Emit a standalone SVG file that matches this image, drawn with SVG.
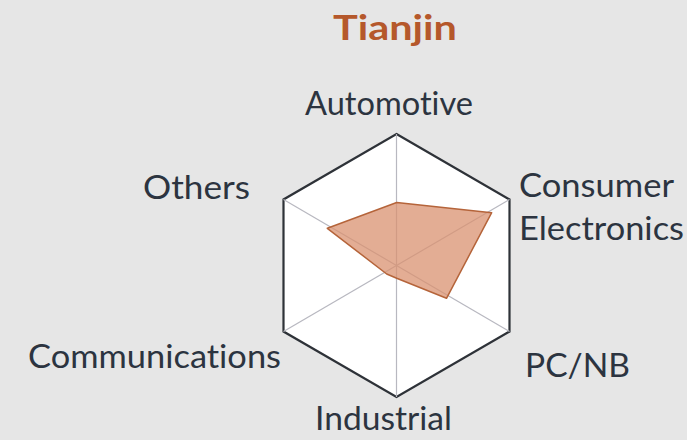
<svg xmlns="http://www.w3.org/2000/svg" width="687" height="440" viewBox="0 0 687 440">
<defs>
<style>
.lbl{font-family:Lato,"Open Sans","Liberation Sans",sans-serif;font-size:32px;fill:#2c3440;font-variant-ligatures:none;}
.ttl{font-family:Lato,"Open Sans","Liberation Sans",sans-serif;font-size:35px;font-weight:bold;fill:#b5582b;font-variant-ligatures:none;}
.axis{stroke:#b8b8c0;stroke-width:1.2;fill:none;}
</style>
</defs>
<rect x="0" y="0" width="687" height="440" fill="#e6e6e6"/>
<text class="ttl" x="333" y="40" textLength="124" lengthAdjust="spacingAndGlyphs">Tianjin</text>
<g id="chart">
<polygon points="396.5,134 509.5,199.5 509.5,331.5 396.5,397 283.5,331.5 283.5,199.5" fill="#ffffff" stroke="#2e3238" stroke-width="2.2" stroke-linejoin="miter"/>
</g>
<g id="connectors">
<line class="axis" x1="396.5" y1="134" x2="396.5" y2="397"/>
<line class="axis" x1="283.5" y1="199.5" x2="509.5" y2="331.5"/>
<line class="axis" x1="509.5" y1="199.5" x2="283.5" y2="331.5"/>
</g>
<g id="data">
<polygon points="396.7,202.5 491.7,212.7 446.5,298.3 396.7,278.3 386.7,274 327.3,228.3" fill="#da9170" fill-opacity="0.75" stroke="#b5643a" stroke-width="1.5" stroke-linejoin="round"/>
</g>
<g id="automotive"><text class="lbl" x="305" y="115" textLength="168" lengthAdjust="spacingAndGlyphs">Automotive</text></g>
<g id="consumer"><text class="lbl" x="519" y="197" textLength="155" lengthAdjust="spacingAndGlyphs">Consumer</text><text class="lbl" x="519" y="240" textLength="165" lengthAdjust="spacingAndGlyphs">Electronics</text></g>
<g id="pcnb"><text class="lbl" x="525" y="377" textLength="105" lengthAdjust="spacingAndGlyphs">PC/NB</text></g>
<g id="industrial"><text class="lbl" x="315" y="430" textLength="137" lengthAdjust="spacingAndGlyphs">Industrial</text></g>
<g id="communications"><text class="lbl" x="28" y="368" textLength="253" lengthAdjust="spacingAndGlyphs">Communications</text></g>
<g id="others"><text class="lbl" x="143" y="199" textLength="107" lengthAdjust="spacingAndGlyphs">Others</text></g>
</svg>
